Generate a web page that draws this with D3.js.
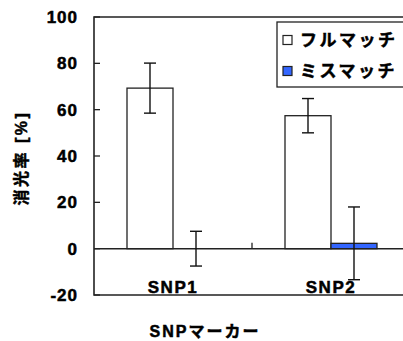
<!DOCTYPE html>
<html>
<head>
<meta charset="utf-8">
<script src="https://cdn.jsdelivr.net/npm/d3@7"></script>
<style>
  body { margin: 0; background: #fff; }
  svg { display: block; font-family: "Liberation Sans", "Noto Sans CJK JP", sans-serif; font-weight: bold; }
  .heavy { stroke: #000; stroke-width: 0.5px; }
</style>
</head>
<body>
<div id="chart"></div>
<script>
// data
const categories = ["SNP1", "SNP2"];
const seriesNames = ["フルマッチ", "ミスマッチ"];
const fullMatch = [69.3, 57.4];
const fullMatchErr = [10.8, 7.4];
const misMatch = [0, 2.3];
const misMatchErr = [7.5, 15.7];
const yTicks = [-20, 0, 20, 40, 60, 80, 100];
const colors = ["#ffffff", "#3366ff"];

const W = 403, H = 341;
const plot = { left: 94, top: 17, right: 410, bottom: 295 };

const svg = d3.select("#chart").append("svg")
    .attr("width", W)
    .attr("height", H);

const y = d3.scaleLinear().domain([-20, 100]).range([plot.bottom, plot.top]);
const x0 = d3.scaleBand().domain(categories).range([plot.left, plot.right]);
const groupW = 92;
const x1 = d3.scaleBand().domain(seriesNames).range([0, groupW]);
const off = (x0.bandwidth() - groupW) / 2;

const rows = [];
categories.forEach((c, i) => {
    rows.push({ cat: c, s: seriesNames[0], v: fullMatch[i], e: fullMatchErr[i], col: colors[0] });
    rows.push({ cat: c, s: seriesNames[1], v: misMatch[i], e: misMatchErr[i], col: colors[1] });
});

// bars
svg.append("g").selectAll("rect")
    .data(rows.filter(d => d.v !== 0))
    .join("rect")
    .attr("x", d => x0(d.cat) + off + x1(d.s))
    .attr("width", x1.bandwidth())
    .attr("y", d => y(Math.max(0, d.v)))
    .attr("height", d => Math.abs(y(d.v) - y(0)))
    .attr("fill", d => d.col)
    .attr("stroke", "#222")
    .attr("stroke-width", 1.3);

// zero line
svg.append("line")
    .attr("x1", plot.left).attr("x2", plot.right)
    .attr("y1", y(0)).attr("y2", y(0))
    .attr("stroke", "#222").attr("stroke-width", 1.5);

// category boundary ticks on zero line
svg.append("g").selectAll("line")
    .data(categories.slice(1))
    .join("line")
    .attr("x1", d => x0(d)).attr("x2", d => x0(d))
    .attr("y1", y(0)).attr("y2", y(0) - 6)
    .attr("stroke", "#222").attr("stroke-width", 1.3);

// error bars
const eb = svg.append("g").selectAll("g")
    .data(rows)
    .join("g")
    .attr("stroke", "#111")
    .attr("stroke-width", 1.4);
const cx = d => x0(d.cat) + off + x1(d.s) + x1.bandwidth() / 2;
eb.append("line")
    .attr("x1", cx).attr("x2", cx)
    .attr("y1", d => y(d.v + d.e)).attr("y2", d => y(d.v - d.e));
eb.append("line")
    .attr("x1", d => cx(d) - 6).attr("x2", d => cx(d) + 6)
    .attr("y1", d => y(d.v + d.e)).attr("y2", d => y(d.v + d.e));
eb.append("line")
    .attr("x1", d => cx(d) - 6).attr("x2", d => cx(d) + 6)
    .attr("y1", d => y(d.v - d.e)).attr("y2", d => y(d.v - d.e));

// spines
svg.append("path")
    .attr("d", `M${plot.right},${plot.top}H${plot.left}V${plot.bottom}H${plot.right}`)
    .attr("fill", "none")
    .attr("stroke", "#222")
    .attr("stroke-width", 1.6);

// y axis ticks (inward) and labels
svg.append("g").selectAll("line")
    .data(yTicks)
    .join("line")
    .attr("x1", plot.left).attr("x2", plot.left + 6)
    .attr("y1", d => y(d)).attr("y2", d => y(d))
    .attr("stroke", "#222").attr("stroke-width", 1.3);

svg.append("g").selectAll("text")
    .data(yTicks)
    .join("text")
    .attr("class", "heavy")
    .attr("x", 78)
    .attr("y", d => y(d) + 6)
    .attr("text-anchor", "end")
    .style("font-size", "17px")
    .style("letter-spacing", "1px")
    .text(d => d);

// category labels sit just above the bottom spine
svg.append("g").selectAll("text")
    .data(categories)
    .join("text")
    .attr("class", "heavy")
    .attr("x", d => x0(d) + x0.bandwidth() / 2)
    .attr("y", 293)
    .attr("text-anchor", "middle")
    .style("font-size", "17px")
    .style("letter-spacing", "1.5px")
    .text(d => d);

// axis titles
svg.append("text")
    .attr("class", "heavy")
    .attr("transform", "translate(27,158) rotate(-90)")
    .attr("text-anchor", "middle")
    .style("font-size", "16px")
    .style("letter-spacing", "2.5px")
    .text("消光率 [%]");

svg.append("text")
    .attr("class", "heavy")
    .attr("x", 205)
    .attr("y", 337)
    .attr("text-anchor", "middle")
    .style("font-size", "16px")
    .style("letter-spacing", "2px")
    .text("SNPマーカー");

// legend
const lg = svg.append("g");
lg.append("rect")
    .attr("x", 277).attr("y", 22)
    .attr("width", 140).attr("height", 65)
    .attr("fill", "#fff")
    .attr("stroke", "#222").attr("stroke-width", 1.3);
const li = lg.selectAll("g.item")
    .data(seriesNames)
    .join("g")
    .attr("transform", (d, i) => `translate(283,${40 + i * 31})`);
li.append("rect")
    .attr("x", 0).attr("y", -4.5)
    .attr("width", 9).attr("height", 9)
    .attr("fill", (d, i) => colors[i])
    .attr("stroke", "#222").attr("stroke-width", 1.2);
li.append("text")
    .attr("class", "heavy")
    .attr("x", 17).attr("y", 6)
    .style("font-size", "17px")
    .style("letter-spacing", "2.5px")
    .text(d => d);
</script>
</body>
</html>
